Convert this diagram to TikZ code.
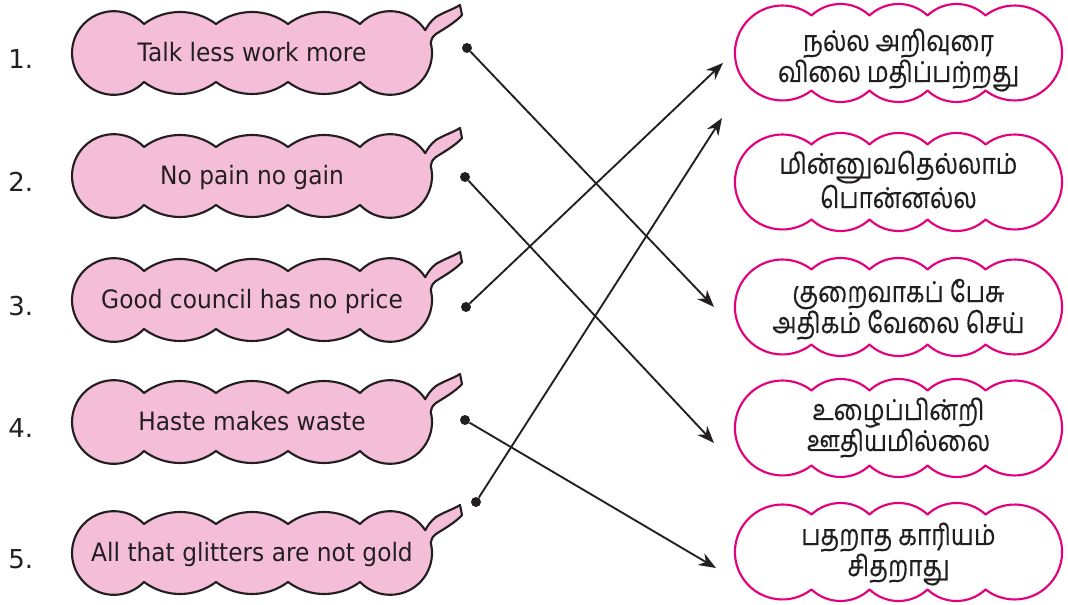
\documentclass[tikz,border=0pt]{standalone}
\usepackage{fontspec}
\setmainfont{DejaVu Sans}
\newfontfamily\engfont[FakeStretch=0.92]{DejaVu Sans}
\newfontfamily\tamil[Script=Tamil,FakeStretch=0.85,FakeBold=0.4]{Hind Madurai}
\usetikzlibrary{arrows.meta}
\definecolor{pinkfill}{RGB}{245,190,216}
\definecolor{magentaline}{RGB}{228,0,124}
\definecolor{ink}{RGB}{35,31,32}
\tikzset{
 lbubshape/.style={fill=pinkfill, draw=ink, line width=1.6pt, line join=round},
 rbubshape/.style={fill=white, draw=magentaline, line width=1.6pt, line join=round},
 engtext/.style={anchor=base, inner sep=0pt, text=ink, font=\engfont\fontsize{19}{21}\selectfont},
 numtext/.style={anchor=base west, inner sep=0pt, text=ink, font=\fontsize{19.5}{21}\selectfont},
 tamtext/.style={anchor=base, inner sep=0pt, text=ink, align=center, font=\tamil\fontsize{21.5}{23.25}\selectfont},
 dotnode/.style={circle, fill=ink, inner sep=0pt, minimum size=7.5pt},
 conn/.style={draw=ink, line width=1.4pt, -{Stealth[length=13pt,width=10pt]}},
 lbub/.pic={
  \path[lbubshape] (-108,29)
   arc[start angle=126.87,end angle=53.13,radius=60]
   arc[start angle=126.87,end angle=53.13,radius=60]
   arc[start angle=126.87,end angle=53.13,radius=60]
   arc[start angle=136.12,end angle=33,radius=41.84]
   .. controls (176,28) and (179,32) .. (184,36)
   .. controls (192,41) and (202,44) .. (208,48)
   -- (210,38)
   .. controls (203,30) and (190,23) .. (184,19)
   .. controls (180,16) and (179,13) .. (178.76,10.12)
   arc[start angle=14,end angle=-136.12,radius=41.84]
   arc[start angle=-53.13,end angle=-126.87,radius=60]
   arc[start angle=-53.13,end angle=-126.87,radius=60]
   arc[start angle=-53.13,end angle=-126.87,radius=60]
   arc[start angle=-43.88,end angle=-316.12,radius=41.84]
   -- cycle;
 },
 rbub/.pic={
  \path[rbubshape] (-87,37.5)
   arc[start angle=133.26,end angle=46.74,radius=42.32]
   arc[start angle=133.26,end angle=46.74,radius=42.32]
   arc[start angle=133.26,end angle=46.74,radius=42.32]
   arc[start angle=127.81,end angle=-127.81,radius=47.47]
   arc[start angle=-46.74,end angle=-133.26,radius=42.32]
   arc[start angle=-46.74,end angle=-133.26,radius=42.32]
   arc[start angle=-46.74,end angle=-133.26,radius=42.32]
   arc[start angle=-52.19,end angle=-307.81,radius=47.47]
   -- cycle;
 }
}
\begin{document}
\begin{tikzpicture}[x=0.75pt,y=0.75pt]
\fill[white] (0,0) rectangle (1068,605);
\useasboundingbox (0,0) rectangle (1068,605);

% left bubbles
\pic at (252,552) {lbub};
\pic at (252,429) {lbub};
\pic at (252,305) {lbub};
\pic at (252,183) {lbub};
\pic at (252,52) {lbub};

\node[engtext] (e1) at (252,543) {Talk less work more};
\node[engtext] (e2) at (252,420) {No pain no gain};
\node[engtext] (e3) at (252,296) {Good council has no price};
\node[engtext] (e4) at (252,174) {Haste makes waste};
\node[engtext] (e5) at (252,43) {All that glitters are not gold};

\node[numtext] (n1) at (8,536) {1.};
\node[numtext] (n2) at (8,413) {2.};
\node[numtext] (n3) at (8,289) {3.};
\node[numtext] (n4) at (8,167) {4.};
\node[numtext] (n5) at (8,36) {5.};

% right bubbles
\pic at (898.5,552) {rbub};
\pic at (898.5,423) {rbub};
\pic at (898.5,298) {rbub};
\pic at (898.5,177) {rbub};
\pic at (898.5,53) {rbub};

\node[tamtext] (r1) at (898.5,523) {நல்ல அறிவுரை\\விலை மதிப்பற்றது};
\node[tamtext] (r2) at (898.5,397) {மின்னுவதெல்லாம்\\பொன்னல்ல};
\node[tamtext] (r3) at (898.5,272) {குறைவாகப் பேசு\\அதிகம் வேலை செய்};
\node[tamtext] (r4) at (898.5,154) {உழைப்பின்றி\\ஊதியமில்லை};
\node[tamtext] (r5) at (898.5,29) {பதறாத காரியம்\\சிதறாது};

% dots
\node[dotnode] (d1) at (467,557) {};
\node[dotnode] (d2) at (465,428) {};
\node[dotnode] (d3) at (466,298) {};
\node[dotnode] (d4) at (465,185) {};
\node[dotnode] (d5) at (476,103) {};

% arrow tips
\coordinate (ta) at (714,298);
\coordinate (tb) at (714,162);
\coordinate (tc) at (723,542);
\coordinate (td) at (722,487);
\coordinate (te) at (716,37);

\draw[conn] (d1) -- (ta);
\draw[conn] (d2) -- (tb);
\draw[conn] (d3) -- (tc);
\draw[conn] (d4) -- (te);
\draw[conn] (d5) -- (td);
\end{tikzpicture}
\end{document}
